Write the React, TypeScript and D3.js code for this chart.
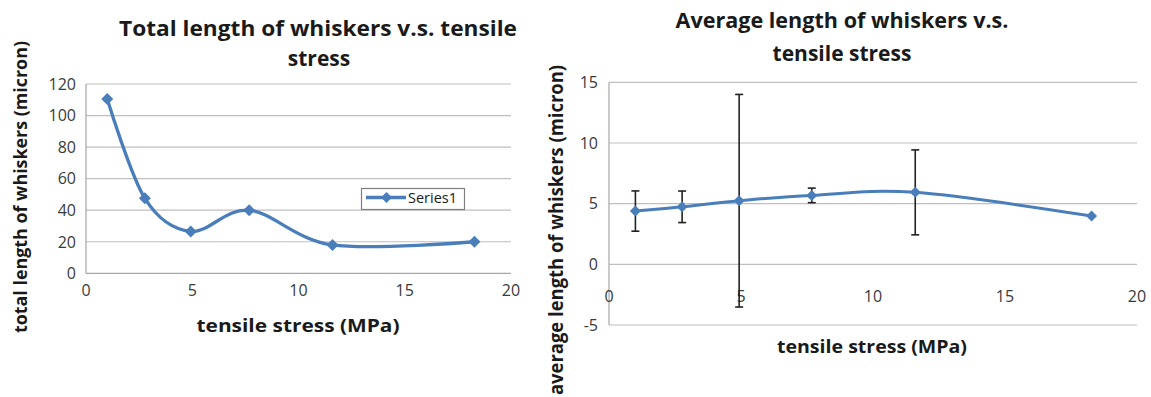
import React from 'react';
import * as d3 from 'd3';

const stress = [1.0, 2.77, 4.93, 7.68, 11.6, 18.28];
const totalLength = [110.5, 47.5, 26.5, 40, 18, 20];
const avgLength = [4.39, 4.74, 5.24, 5.68, 5.93, 3.98];
const avgError = [1.66, 1.3, 8.76, 0.6, 3.5, 0];
const leftYTicks = [0, 20, 40, 60, 80, 100, 120];
const rightYTicks = [-5, 0, 5, 10, 15];
const xTicks = [0, 5, 10, 15, 20];
const seriesName = 'Series1';
const leftTitle = ['Total length of whiskers v.s. tensile', 'stress'];
const rightTitle = ['Average length of whiskers v.s.', 'tensile stress'];
const xTitle = 'tensile stress (MPa)';
const leftYTitle = 'total length of whiskers (micron)';
const rightYTitle = 'average length of whiskers (micron)';

const FONT = "'Open Sans', Lato, sans-serif";
const BLUE = '#4a7ebb';
const GRID = '#bfbfbf';
const AXIS = '#a6a6a6';
const TICK = '#3a3a3a';
const DARK = '#1a1a1a';

const diamond = (x: number, y: number, r: number) =>
  `M${x},${y - r}L${x + r},${y}L${x},${y + r}L${x - r},${y}Z`;

function LeftChart() {
  const x = d3.scaleLinear().domain([0, 20]).range([86, 511]);
  const y = d3.scaleLinear().domain([0, 120]).range([273.3, 84]);
  const pts = stress.map((s, i) => [x(s), y(totalLength[i])] as [number, number]);
  const line = d3.line().curve(d3.curveCardinal.tension(0))(pts) || '';
  return (
    <g>
      <text x={318} y={36} textAnchor="middle" fontSize={21} fontWeight="bold" fill={DARK} fontFamily={FONT} textLength={398} lengthAdjust="spacingAndGlyphs">{leftTitle[0]}</text>
      <text x={319} y={66} textAnchor="middle" fontSize={21} fontWeight="bold" fill={DARK} fontFamily={FONT}>{leftTitle[1]}</text>
      {leftYTicks.map((v) => (
        <g key={v}>
          <line x1={86} x2={511} y1={y(v)} y2={y(v)} stroke={v === 0 ? AXIS : GRID} strokeWidth={1.2} />
          <text x={76} y={y(v)} dy="0.36em" textAnchor="end" fontSize={16} fill={TICK} fontFamily={FONT}>{v}</text>
        </g>
      ))}
      <line x1={86} x2={86} y1={84} y2={273.3} stroke={AXIS} strokeWidth={1.2} />
      {xTicks.map((v) => (
        <text key={v} x={x(v)} y={296} textAnchor="middle" fontSize={16} fill={TICK} fontFamily={FONT}>{v}</text>
      ))}
      <text x={298} y={332} textAnchor="middle" fontSize={18.5} fontWeight="bold" fill={DARK} fontFamily={FONT} textLength={203} lengthAdjust="spacingAndGlyphs">{xTitle}</text>
      <text transform="translate(27,187) rotate(-90)" textAnchor="middle" fontSize={17} fontWeight="bold" fill={DARK} fontFamily={FONT} textLength={292} lengthAdjust="spacingAndGlyphs">{leftYTitle}</text>
      <path d={line} fill="none" stroke={BLUE} strokeWidth={3.3} />
      {pts.map(([px, py], i) => (
        <path key={i} d={diamond(px, py, 6)} fill={BLUE} />
      ))}
      <rect x={361.5} y={188.5} width={103} height={21} fill="#fff" stroke="#7f7f7f" strokeWidth={1.2} />
      <line x1={366} x2={406} y1={197.5} y2={197.5} stroke={BLUE} strokeWidth={3.3} />
      <path d={diamond(386.5, 197.5, 5.5)} fill={BLUE} />
      <text x={408} y={203} fontSize={14.5} fill={DARK} fontFamily={FONT}>{seriesName}</text>
    </g>
  );
}

function RightChart() {
  const x = d3.scaleLinear().domain([0, 20]).range([609, 1137]);
  const y = d3.scaleLinear().domain([-5, 15]).range([325, 82.3]);
  const pts = stress.map((s, i) => [x(s), y(avgLength[i])] as [number, number]);
  const line = d3.line().curve(d3.curveCardinal.tension(0))(pts) || '';
  return (
    <g>
      <text x={842} y={28} textAnchor="middle" fontSize={21} fontWeight="bold" fill={DARK} fontFamily={FONT} textLength={333} lengthAdjust="spacingAndGlyphs">{rightTitle[0]}</text>
      <text x={842} y={61} textAnchor="middle" fontSize={21} fontWeight="bold" fill={DARK} fontFamily={FONT}>{rightTitle[1]}</text>
      {rightYTicks.map((v) => (
        <g key={v}>
          <line x1={609} x2={1137} y1={y(v)} y2={y(v)} stroke={GRID} strokeWidth={1.2} />
          <text x={598} y={y(v)} dy="0.36em" textAnchor="end" fontSize={16} fill={TICK} fontFamily={FONT}>{v}</text>
        </g>
      ))}
      <line x1={609} x2={609} y1={82.3} y2={325} stroke={AXIS} strokeWidth={1.2} />
      {xTicks.map((v) => (
        <text key={v} x={x(v)} y={302} textAnchor="middle" fontSize={16} fill={TICK} fontFamily={FONT}>{v}</text>
      ))}
      <text x={872} y={353} textAnchor="middle" fontSize={18} fontWeight="bold" fill={DARK} fontFamily={FONT} textLength={190} lengthAdjust="spacingAndGlyphs">{xTitle}</text>
      <text transform="translate(563,230) rotate(-90)" textAnchor="middle" fontSize={19} fontWeight="bold" fill={DARK} fontFamily={FONT} textLength={330} lengthAdjust="spacingAndGlyphs">{rightYTitle}</text>
      {pts.map(([px], i) =>
        avgError[i] > 0 ? (
          <g key={'e' + i} stroke="#222" strokeWidth={1.6}>
            <line x1={px} x2={px} y1={y(avgLength[i] + avgError[i])} y2={y(avgLength[i] - avgError[i])} />
            <line x1={px - 4} x2={px + 4} y1={y(avgLength[i] + avgError[i])} y2={y(avgLength[i] + avgError[i])} />
            <line x1={px - 4} x2={px + 4} y1={y(avgLength[i] - avgError[i])} y2={y(avgLength[i] - avgError[i])} />
          </g>
        ) : null
      )}
      <path d={line} fill="none" stroke={BLUE} strokeWidth={3} />
      {pts.map(([px, py], i) => (
        <path key={i} d={diamond(px, py, 5.5)} fill={BLUE} />
      ))}
    </g>
  );
}

export default function App() {
  return (
    <div style={{ position: 'absolute', left: 0, top: 0 }}>
      <svg width={1151} height={397} style={{ display: 'block', background: '#fff' }}>
        <rect width={1151} height={397} fill="#fff" />
        <LeftChart />
        <RightChart />
      </svg>
    </div>
  );
}
